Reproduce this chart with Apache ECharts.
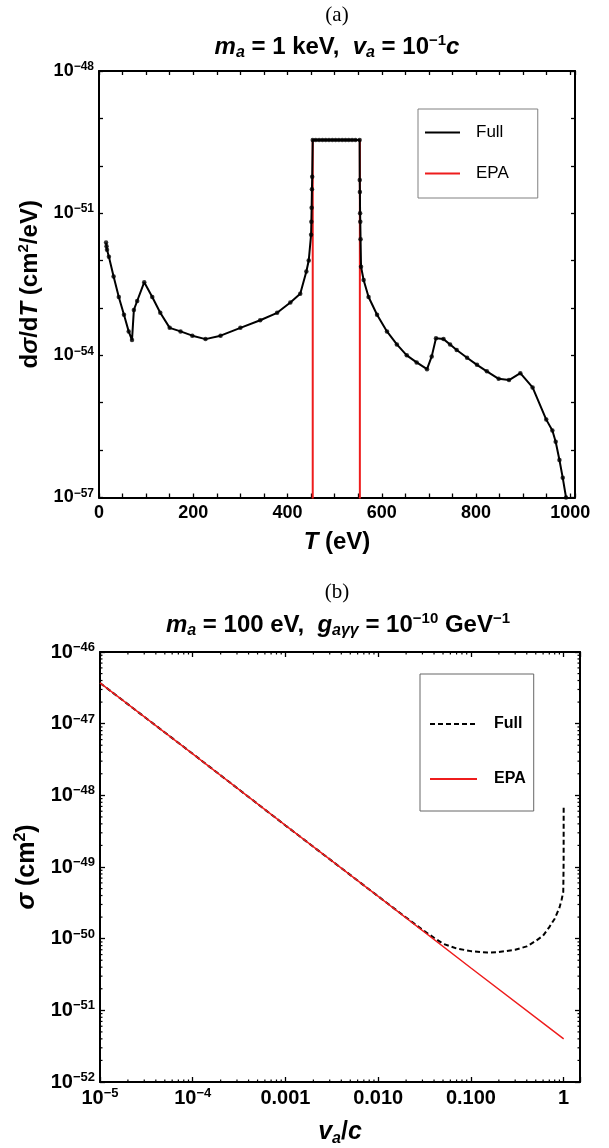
<!DOCTYPE html>
<html><head><meta charset="utf-8">
<script src="https://cdn.jsdelivr.net/npm/echarts@6/dist/echarts.min.js"></script>
<style>html,body{margin:0;padding:0;background:#fff}#c{width:609px;height:1148px}</style>
</head><body><div id="c"></div>
<script>
// ---------------- Panel (a): dσ/dT vs T ----------------
const aFullT = [15,16,17,21,31,42,53,63,70,74,81,96,113,130,150,173,198,226,258,300,342,378,406,427,440,445,450,450.6,451.2,451.8,452.4,453.5,
  460,467,474,481,488,495,502,509,516,523,530,537,544,553,
  553.3,553.6,554,554.4,555,556,561.5,572,590,611,632,653,674,696,706,715,731,745,759,781,802,823,848,870,894,920,949,962,969,977,984,991,994];
const aFull = [2.4e-52,2.0e-52,1.7e-52,1.2e-52,4.6e-53,1.7e-53,7.2e-54,3.2e-54,2.1e-54,9.1e-54,1.4e-53,3.5e-53,1.7e-53,7.9e-54,3.8e-54,3.2e-54,2.6e-54,2.2e-54,2.6e-54,3.8e-54,5.5e-54,7.9e-54,1.3e-53,2.0e-53,5.9e-53,1.0e-52,3.5e-52,6.6e-52,1.3e-51,3.2e-51,5.9e-51,3.5e-50,
  3.5e-50,3.5e-50,3.5e-50,3.5e-50,3.5e-50,3.5e-50,3.5e-50,3.5e-50,3.5e-50,3.5e-50,3.5e-50,3.5e-50,3.5e-50,3.5e-50,
  5.0e-51,2.8e-51,1.0e-51,6.6e-52,2.8e-52,7.4e-53,3.9e-53,1.7e-53,7.2e-54,3.2e-54,1.7e-54,1.0e-54,7.1e-55,5.1e-55,9.5e-55,2.3e-54,2.2e-54,1.7e-54,1.3e-54,8.9e-55,6.3e-55,4.6e-55,3.2e-55,3.0e-55,4.2e-55,2.1e-55,4.4e-56,2.6e-56,1.5e-56,6.2e-57,2.6e-57,1.0e-57,4.0e-58];
const aEpaT = [453.5,453.5,553.5,553.5];
const aEpa = [1e-60,3.5e-50,3.5e-50,1e-60];
const aXLabelVals = [0,200,400,600,800,1000];
const aYLabelExps = [-48,-51,-54,-57];

// ---------------- Panel (b): σ vs v_a/c ----------------
const bV = [1e-5,1e-4,1e-3,1e-2,0.02,0.03,0.04,0.05,0.07,0.1,0.15,0.2,0.3,0.4,0.5,0.6,0.7,0.8,0.9,0.95,0.99,0.999,1.0];
const bFull = [3.7e-47,3.8e-48,3.8e-49,3.9e-50,1.97e-50,1.33e-50,1.03e-50,8.5e-51,7.3e-51,6.7e-51,6.4e-51,6.5e-51,7.0e-51,7.8e-51,9.3e-51,1.1e-50,1.45e-50,1.9e-50,2.7e-50,3.5e-50,4.5e-50,1.2e-49,7.0e-49];
const bEpaV = [1e-5,1e-4,1e-3,1e-2,1e-1,1];
const bEpa = [3.7e-47,3.8e-48,3.8e-49,3.9e-50,3.9e-51,4.0e-52];
const bXLabelVals = [1e-5,1e-4,1e-3,1e-2,1e-1,1];
const bXLabelText = ['{b|10}{s|\u22125}','{b|10}{s|\u22124}','{b|0.001}','{b|0.010}','{b|0.100}','{b|1}'];
const bYLabelExps = [-46,-47,-48,-49,-50,-51,-52];

const FONT = 'Liberation Sans';
const RED = '#ee1c1c';

// minor ticks (2..9 per decade) for panel (b) log axes
const bXMinor = [];
for (let k = -5; k <= 0; k++) for (let m = 2; m <= 9; m++) { const v = m * Math.pow(10, k); if (v <= 1.5) bXMinor.push(v); }
const bYMinor = [];
for (let k = -52; k <= -47; k++) for (let m = 2; m <= 9; m++) bYMinor.push(k + Math.log10(m));
const minorData = bXMinor.map(v => [v, -52, 0]).concat(bYMinor.map(y => [1e-5, y, 1]));

const lab = (size, sup) => ({
  b: {fontFamily: FONT, fontWeight: 'bold', fontSize: size, lineHeight: size + 2, color: '#000'},
  s: {fontFamily: FONT, fontWeight: 'bold', fontSize: sup, lineHeight: sup, verticalAlign: 'top', color: '#000'}
});
const nameRich = (size) => ({
  b: {fontFamily: FONT, fontWeight: 'bold', fontSize: size, lineHeight: size + 4, color: '#000'},
  i: {fontFamily: FONT, fontWeight: 'bold', fontStyle: 'italic', fontSize: size, lineHeight: size + 4, color: '#000'},
  si: {fontFamily: FONT, fontWeight: 'bold', fontStyle: 'italic', fontSize: Math.round(size * 0.65), lineHeight: Math.round(size * 0.65), verticalAlign: 'bottom', color: '#000'},
  sp: {fontFamily: FONT, fontWeight: 'bold', fontSize: Math.round(size * 0.62), lineHeight: Math.round(size * 0.62), verticalAlign: 'top', color: '#000'}
});
const titleRich = nameRich(24);

const frameLine = {show: true, onZero: false, lineStyle: {color: '#000', width: 2}};
const tick = (len) => ({show: true, inside: true, length: len, lineStyle: {color: '#000', width: 1.3}});
const hiddenSymbol = {opacity: 0, color: 'rgba(0,0,0,0)', borderColor: 'rgba(0,0,0,0)', borderWidth: 0};

const aYFmt = v => { const e = Math.round(v); if (Math.abs(v - e) > 1e-6 || aYLabelExps.indexOf(e) < 0) return ''; return '{b|10}{s|\u2212' + (-e) + '}'; };
const aXFmt = v => aXLabelVals.indexOf(Math.round(v)) >= 0 && Math.abs(v - Math.round(v)) < 1e-6 ? '{b|' + Math.round(v) + '}' : '';
const bYFmt = v => { const e = Math.round(v); if (Math.abs(v - e) > 1e-6 || bYLabelExps.indexOf(e) < 0) return ''; return '{b|10}{s|\u2212' + (-e) + '}'; };
const bXFmt = v => { for (let i = 0; i < bXLabelVals.length; i++) if (Math.abs(Math.log10(v) - Math.log10(bXLabelVals[i])) < 1e-6) return bXLabelText[i]; return ''; };

const chart = echarts.init(document.getElementById('c'), null, {renderer: 'canvas', width: 609, height: 1148});
chart.setOption({
  animation: false,
  backgroundColor: '#fff',
  graphic: [
    {type: 'text', x: 337, y: 15, style: {text: '(a)', fontFamily: 'Liberation Serif', fontSize: 21, fill: '#000', align: 'center', verticalAlign: 'middle'}},
    {type: 'text', x: 337, y: 47, style: {text: '{i|m}{si|a}{b| = 1 keV,  }{i|v}{si|a}{b| = 10}{sp|\u22121}{i|c}', rich: titleRich, align: 'center', verticalAlign: 'middle'}},
    {type: 'text', x: 337, y: 592, style: {text: '(b)', fontFamily: 'Liberation Serif', fontSize: 21, fill: '#000', align: 'center', verticalAlign: 'middle'}},
    {type: 'text', x: 338, y: 625, style: {text: '{i|m}{si|a}{b| = 100 eV,  }{i|g}{si|a\u03b3\u03b3}{b| = 10}{sp|\u221210}{b| GeV}{sp|\u22121}', rich: titleRich, align: 'center', verticalAlign: 'middle'}}
  ],
  grid: [
    {left: 99, top: 71, width: 476, height: 426.5},
    {left: 100, top: 652, width: 480, height: 430}
  ],
  legend: [
    {data: ['Full', 'EPA'], orient: 'vertical', left: 418, top: 109, padding: [15, 29, 16, 6], itemWidth: 35, itemHeight: 14, itemGap: 24,
     borderColor: '#808080', borderWidth: 1, selectedMode: false, itemStyle: hiddenSymbol,
     textStyle: {fontFamily: FONT, fontSize: 17, lineHeight: 14, color: '#000', padding: [0, 0, 0, 11]}},
    {data: ['Full-b', 'EPA-b'], formatter: n => n.split('-')[0], orient: 'vertical', left: 420, top: 674, padding: [42, 8, 24, 9], itemWidth: 47, itemHeight: 14, itemGap: 39,
     borderColor: '#666', borderWidth: 1, selectedMode: false, itemStyle: hiddenSymbol,
     textStyle: {fontFamily: FONT, fontSize: 16, lineHeight: 14, fontWeight: 'bold', color: '#000', padding: [0, 0, 0, 12]}}
  ],
  xAxis: [
    {type: 'value', gridIndex: 0, position: 'bottom', min: 0, max: 1010, interval: 50, axisLine: frameLine, axisTick: tick(4), splitLine: {show: false},
     axisLabel: {formatter: aXFmt, margin: 6, rich: lab(18, 12)},
     name: '{i|T}{b| (eV)}', nameLocation: 'middle', nameGap: 31, nameTextStyle: {rich: nameRich(24)}},
    {type: 'value', gridIndex: 0, position: 'top', min: 0, max: 1010, interval: 50, axisLine: frameLine, axisTick: tick(4), splitLine: {show: false}, axisLabel: {show: false}},
    {type: 'log', gridIndex: 1, position: 'bottom', min: 1e-5, max: 1.5, interval: 1, axisLine: frameLine, axisTick: tick(5), splitLine: {show: false}, minorTick: {show: false},
     axisLabel: {formatter: bXFmt, margin: 5, rich: lab(20, 13)},
     name: '{i|v}{si|a}{b|/}{i|c}', nameLocation: 'middle', nameGap: 36, nameTextStyle: {rich: nameRich(25)}},
    {type: 'log', gridIndex: 1, position: 'top', min: 1e-5, max: 1.5, interval: 1, axisLine: frameLine, axisTick: tick(5), splitLine: {show: false}, axisLabel: {show: false}}
  ],
  yAxis: [
    {type: 'value', gridIndex: 0, position: 'left', min: -57, max: -48, interval: 1, axisLine: frameLine, axisTick: tick(4), splitLine: {show: false},
     axisLabel: {formatter: aYFmt, margin: 5, rich: lab(18, 12)},
     name: '{b|d}{i|\u03c3}{b|/d}{i|T}{b| (cm}{sp|2}{b|/eV)}', nameLocation: 'middle', nameGap: 54, nameTextStyle: {rich: nameRich(24)}},
    {type: 'value', gridIndex: 0, position: 'right', min: -57, max: -48, interval: 1, axisLine: frameLine, axisTick: tick(4), splitLine: {show: false}, axisLabel: {show: false}},
    {type: 'value', gridIndex: 1, position: 'left', min: -52, max: -46, interval: 1, axisLine: frameLine, axisTick: tick(5), splitLine: {show: false},
     axisLabel: {formatter: bYFmt, margin: 5, rich: lab(20, 13)},
     name: '{i|\u03c3}{b| (cm}{sp|2}{b|)}', nameLocation: 'middle', nameGap: 54, nameTextStyle: {rich: nameRich(25)}},
    {type: 'value', gridIndex: 1, position: 'right', min: -52, max: -46, interval: 1, axisLine: frameLine, axisTick: tick(5), splitLine: {show: false}, axisLabel: {show: false}}
  ],
  series: [
    {name: 'EPA', type: 'line', xAxisIndex: 0, yAxisIndex: 0, data: aEpaT.map((t, i) => [t, Math.log10(aEpa[i])]),
     symbol: 'none', lineStyle: {color: RED, width: 2}, itemStyle: {color: RED}, z: 2},
    {name: 'Full', type: 'line', xAxisIndex: 0, yAxisIndex: 0, data: aFullT.map((t, i) => [t, Math.log10(aFull[i])]),
     symbol: 'none', lineStyle: {color: '#000', width: 2}, itemStyle: {color: '#000'}, z: 3},
    {name: 'Full points', type: 'scatter', xAxisIndex: 0, yAxisIndex: 0, data: aFullT.map((t, i) => [t, Math.log10(aFull[i])]),
     symbolSize: 4.5, itemStyle: {color: '#000'}, clip: true, z: 4},
    {name: 'Full-b', type: 'line', xAxisIndex: 2, yAxisIndex: 2, data: bV.map((v, i) => [v, Math.log10(bFull[i])]),
     symbol: 'none', lineStyle: {color: '#000', width: 2, type: [5, 3]}, itemStyle: {color: '#000'}, z: 2},
    {name: 'EPA-b', type: 'line', xAxisIndex: 2, yAxisIndex: 2, data: bEpaV.map((v, i) => [v, Math.log10(bEpa[i])]),
     symbol: 'none', lineStyle: {color: RED, width: 1.5}, itemStyle: {color: RED}, z: 3},
    {name: 'minor ticks', type: 'custom', xAxisIndex: 2, yAxisIndex: 2, data: minorData, encode: {x: 0, y: 1}, silent: true, clip: false, z: 5,
     renderItem: function (params, api) {
       const kind = api.value(2), L = 2.5, st = {stroke: '#000', lineWidth: 1.2};
       if (kind === 0) {
         const x = api.value(0);
         const p0 = api.coord([x, -52]), p1 = api.coord([x, -46]);
         return {type: 'group', children: [
           {type: 'line', shape: {x1: p0[0], y1: p0[1], x2: p0[0], y2: p0[1] - L}, style: st},
           {type: 'line', shape: {x1: p1[0], y1: p1[1], x2: p1[0], y2: p1[1] + L}, style: st}]};
       }
       const y = api.value(1);
       const q0 = api.coord([1e-5, y]), q1 = api.coord([1.5, y]);
       return {type: 'group', children: [
         {type: 'line', shape: {x1: q0[0], y1: q0[1], x2: q0[0] + L, y2: q0[1]}, style: st},
         {type: 'line', shape: {x1: q1[0], y1: q1[1], x2: q1[0] - L, y2: q1[1]}, style: st}]};
     }}
  ]
});
</script>
</body></html>
